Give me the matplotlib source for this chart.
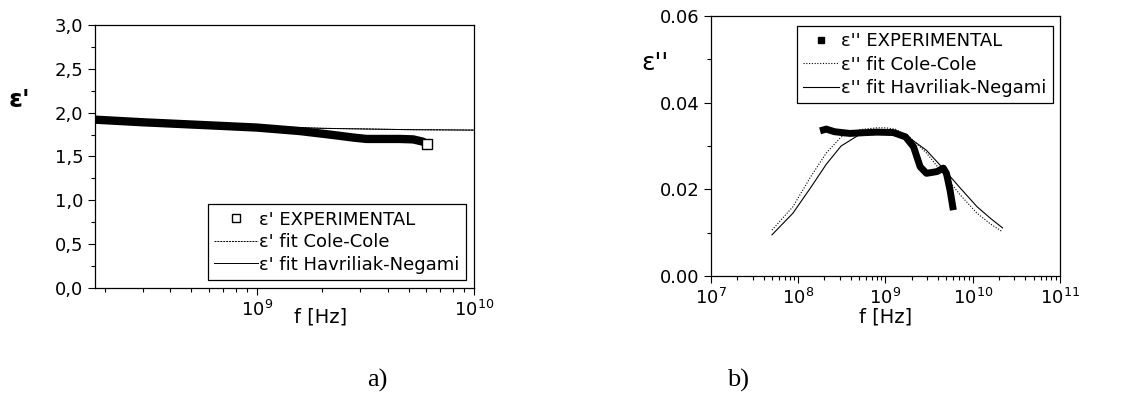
import numpy as np
import matplotlib
matplotlib.use("Agg")
import matplotlib.pyplot as plt
from matplotlib.ticker import FuncFormatter, LogLocator, MultipleLocator, NullFormatter
from matplotlib.lines import Line2D

plt.rcParams['font.family'] = ['DejaVu Sans']
plt.rcParams['mathtext.default'] = 'regular'

# panel a) real part
f_exp_a = [1.8e8, 3.0e8, 5.5e8, 1.0e9, 1.58e9, 2.25e9, 2.8e9, 3.2e9, 4.55e9, 5.25e9, 5.8e9, 6.1e9]
eps1_exp = [1.92, 1.89, 1.86, 1.83, 1.79, 1.745, 1.715, 1.70, 1.70, 1.695, 1.67, 1.64]
f_fit_a = [1.8e8, 3.0e8, 5.0e8, 1.0e9, 2.0e9, 5.0e9, 1.0e10, 2.2e10]
eps1_cc = [1.925, 1.90, 1.875, 1.845, 1.822, 1.806, 1.801, 1.80]
eps1_hn = [1.92, 1.895, 1.872, 1.843, 1.821, 1.806, 1.801, 1.80]

# panel b) imaginary part
f_exp_b = [1.78e8, 2.1e8, 2.6e8, 3.9e8, 6.0e8, 8.0e8, 1.23e9, 1.7e9, 2.1e9, 2.5e9,
           2.95e9, 3.9e9, 4.6e9, 5.0e9, 5.5e9, 6.0e9]
eps2_exp = [0.0335, 0.0339, 0.0333, 0.0329, 0.0331, 0.0332, 0.0331, 0.0321, 0.0298, 0.0252,
            0.0237, 0.0241, 0.0249, 0.0237, 0.0198, 0.0152]
f_fit_b = [5.0e7, 8.7e7, 1.4e8, 2.1e8, 3.1e8, 5.1e8, 8.0e8, 1.0e9, 1.3e9, 1.9e9,
           2.95e9, 4.5e9, 7.2e9, 1.12e10, 1.6e10, 2.2e10]
eps2_cc = [0.0106, 0.0160, 0.0230, 0.0284, 0.0321, 0.0338, 0.0342, 0.0342, 0.0339, 0.0320,
           0.0284, 0.0238, 0.0187, 0.0145, 0.0120, 0.0102]
eps2_hn = [0.0095, 0.0145, 0.0205, 0.0258, 0.0300, 0.0327, 0.0336, 0.0336, 0.0333, 0.0318,
           0.0290, 0.0250, 0.0203, 0.0160, 0.0133, 0.0111]

fig = plt.figure(figsize=(11.46, 4.03), dpi=100)
ax1 = fig.add_axes([0.0829, 0.2854, 0.3307, 0.6526])
ax2 = fig.add_axes([0.6204, 0.3151, 0.3045, 0.6452])

for ax in (ax1, ax2):
    ax.set_xscale('log')
    for s in ax.spines.values():
        s.set_linewidth(0.9)
    ax.tick_params(which='major', direction='out', length=5, width=0.8, labelsize=13)
    ax.tick_params(which='minor', direction='out', length=3, width=0.8)
    ax.xaxis.set_minor_locator(LogLocator(base=10, subs=np.arange(2, 10)))
    ax.xaxis.set_minor_formatter(NullFormatter())

# --- a)
ax1.plot(f_fit_a, eps1_cc, color='black', lw=0.7, ls=(0, (2, 1)))
ax1.plot(f_fit_a, eps1_hn, color='black', lw=0.7)
ax1.plot(f_exp_a, eps1_exp, color='black', lw=6, solid_capstyle='butt',
         solid_joinstyle='round')
ax1.plot(f_exp_a[-1:], eps1_exp[-1:], ls='none', marker='s', ms=7, mfc='white',
         mec='black', mew=1)
ax1.set_xlim(1.8e8, 1e10)
ax1.set_ylim(0, 3.0)
ax1.yaxis.set_major_locator(MultipleLocator(0.5))
ax1.yaxis.set_minor_locator(MultipleLocator(0.25))
ax1.yaxis.set_major_formatter(FuncFormatter(lambda v, p: f"{v:.1f}".replace('.', ',')))
ax1.set_xlabel('f [Hz]', fontsize=14)
ax1.xaxis.set_label_coords(0.595, -0.075)
ax1.set_ylabel("ε'", fontsize=18, fontweight='bold', rotation=0, va='center', ha='center')
ax1.yaxis.set_label_coords(-0.2, 0.715)

h1 = [Line2D([], [], ls='none', marker='s', ms=6, mfc='white', mec='black', mew=1),
      Line2D([], [], color='black', lw=0.7, ls=(0, (2, 1))),
      Line2D([], [], color='black', lw=0.7)]
leg1 = ax1.legend(h1, ["ε' EXPERIMENTAL", "ε' fit Cole-Cole", "ε' fit Havriliak-Negami"],
                  loc='lower right', bbox_to_anchor=(0.979, 0.03), fontsize=13,
                  frameon=True, fancybox=False, edgecolor='black', framealpha=1,
                  handlelength=2.4, handletextpad=0.1, borderpad=0.35, labelspacing=0.25,
                  borderaxespad=0)
leg1.get_frame().set_linewidth(0.9)

# --- b)
ax2.plot(f_fit_b, eps2_cc, color='black', lw=0.8, ls=(0, (1, 1.5)))
ax2.plot(f_fit_b, eps2_hn, color='black', lw=0.8)
ax2.plot(f_exp_b, eps2_exp, color='black', lw=5, solid_capstyle='butt',
         solid_joinstyle='round')
ax2.set_xlim(1e7, 1e11)
ax2.set_ylim(0, 0.06)
ax2.yaxis.set_major_locator(MultipleLocator(0.02))
ax2.yaxis.set_minor_locator(MultipleLocator(0.01))
ax2.yaxis.set_major_formatter(FuncFormatter(lambda v, p: f"{v:.2f}"))
ax2.set_xlabel('f [Hz]', fontsize=14, labelpad=0)
ax2.set_ylabel("ε''", fontsize=18, rotation=0, va='center', ha='center')
ax2.yaxis.set_label_coords(-0.16, 0.82)

h2 = [Line2D([], [], ls='none', marker='s', ms=5, mfc='black', mec='black'),
      Line2D([], [], color='black', lw=0.8, ls=(0, (1, 1.5))),
      Line2D([], [], color='black', lw=0.8)]
leg2 = ax2.legend(h2, ["ε'' EXPERIMENTAL", "ε'' fit Cole-Cole", "ε'' fit Havriliak-Negami"],
                  loc='upper right', bbox_to_anchor=(0.98, 0.962), fontsize=13,
                  frameon=True, fancybox=False, edgecolor='black', framealpha=1,
                  handlelength=2.0, handletextpad=0.1, borderpad=0.35, labelspacing=0.3,
                  borderaxespad=0)
leg2.get_frame().set_linewidth(0.9)

fig.text(377 / 1146, 1 - 380 / 403, 'a)', family='Liberation Serif', fontsize=19,
         ha='center', va='center')
fig.text(738 / 1146, 1 - 380 / 403, 'b)', family='Liberation Serif', fontsize=19,
         ha='center', va='center')

fig.savefig('out.png', dpi=100)
